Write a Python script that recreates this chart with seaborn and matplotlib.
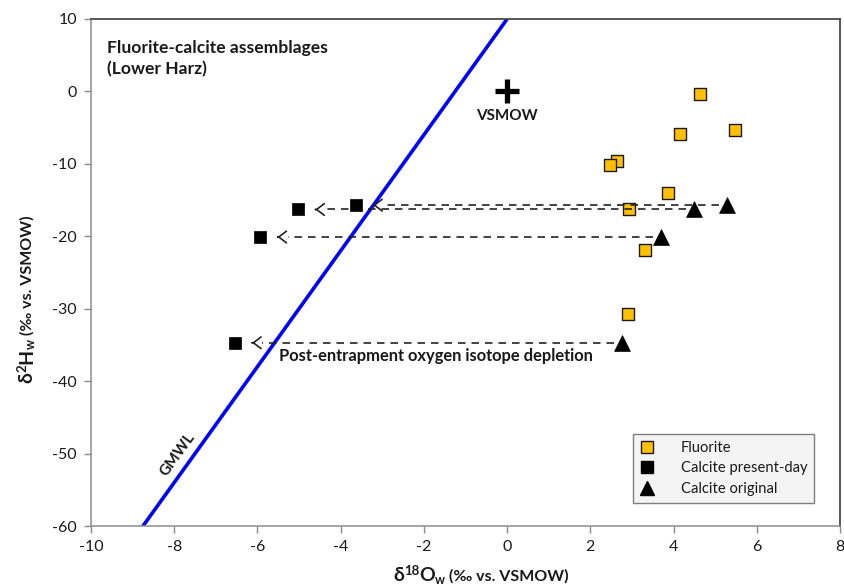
import matplotlib
matplotlib.use("Agg")
import matplotlib.pyplot as plt
import seaborn as sns
import pandas as pd
from matplotlib.lines import Line2D

# --- data (δ18O, δ2H of fluid, ‰ vs. VSMOW) ---
fluorite_d18o = [4.64, 5.48, 4.16, 2.64, 2.48, 3.87, 2.93, 3.32, 2.91]
fluorite_d2h = [-0.35, -5.3, -5.9, -9.6, -10.2, -14.0, -16.2, -21.9, -30.7]

calcite_original_d18o = [5.29, 4.50, 3.71, 2.76]
calcite_present_d18o = [-3.64, -5.03, -5.94, -6.55]
calcite_d2h = [-15.7, -16.3, -20.1, -34.7]

gmwl_slope = 8.0
gmwl_intercept = 10.0
vsmow_point = (0.0, 0.0)

x_ticks = [-10, -8, -6, -4, -2, 0, 2, 4, 6, 8]
y_ticks = [-60, -50, -40, -30, -20, -10, 0, 10]

series_labels = ["Fluorite", "Calcite present-day", "Calcite original"]

# --- style ---
sns.set_style("white")
plt.rcParams["font.family"] = ["Lato", "DejaVu Sans"]
plt.rcParams["axes.unicode_minus"] = False

W, H = 844, 588
fig = plt.figure(figsize=(W / 100, H / 100), dpi=100)
ax = fig.add_axes([91 / W, 1 - 526 / H, (840 - 91) / W, (526 - 19) / H])

# Global meteoric water line
gmwl_x = [x_ticks[0], x_ticks[-1]]
gmwl_df = pd.DataFrame({"x": gmwl_x,
                        "y": [gmwl_slope * v + gmwl_intercept for v in gmwl_x]})
sns.lineplot(data=gmwl_df, x="x", y="y", color="#0000ff", linewidth=2.6,
             ax=ax, zorder=2, legend=False)

# Isotope shift arrows: original calcite -> present-day calcite
for x0, x1, y in zip(calcite_original_d18o, calcite_present_d18o, calcite_d2h):
    tip = x1 + 0.42
    ax.plot([x0 - 0.2, tip + 0.25], [y, y], color="#222222", lw=1.2,
            linestyle=(0, (4.5, 3.6)), zorder=4)
    ax.annotate("", xy=(tip, y), xytext=(tip + 0.01, y),
                arrowprops=dict(arrowstyle="->,head_length=0.55,head_width=0.42",
                                color="#222222", lw=1.2, shrinkA=0, shrinkB=0),
                zorder=4)

# Samples
sns.scatterplot(x=fluorite_d18o, y=fluorite_d2h, marker="s", s=72,
                color="#ffc000", edgecolor="#1a1a1a", linewidth=1.0,
                ax=ax, zorder=3, legend=False)
sns.scatterplot(x=calcite_present_d18o, y=calcite_d2h, marker="s", s=80,
                color="black", edgecolor="black", linewidth=0.5,
                ax=ax, zorder=5, legend=False)
sns.scatterplot(x=calcite_original_d18o, y=calcite_d2h, marker="^", s=130,
                color="black", edgecolor="black", linewidth=0.5,
                ax=ax, zorder=5, legend=False)

# VSMOW reference point
ax.plot(*vsmow_point, marker="+", markersize=17, markeredgewidth=3.8,
        color="black", zorder=5)
ax.text(vsmow_point[0], vsmow_point[1] - 3.4, "VSMOW", ha="center",
        va="center", fontsize=11, fontweight="bold", color="#1a1a1a")

# Axes cosmetics
ax.set_xlabel("")
ax.set_ylabel("")
ax.set_xlim(x_ticks[0], x_ticks[-1])
ax.set_ylim(y_ticks[0], y_ticks[-1])
ax.set_xticks(x_ticks)
ax.set_yticks(y_ticks)
ax.tick_params(axis="both", direction="out", length=5, width=1.0,
               color="#8c8c8c", labelsize=11.5, labelcolor="#1a1a1a", pad=5)
ax.tick_params(top=False, right=False, bottom=True, left=True)
for side in ("left", "bottom"):
    ax.spines[side].set_color("#8c8c8c")
    ax.spines[side].set_linewidth(1.1)
for side in ("top", "right"):
    ax.spines[side].set_color("#4a4a4a")
    ax.spines[side].set_linewidth(1.3)
ax.grid(False)

# Annotations
ax.text(0.021, 0.958, "Fluorite-calcite assemblages\n(Lower Harz)",
        transform=ax.transAxes, ha="left", va="top", fontsize=12.6,
        fontweight="bold", color="#1a1a1a", linespacing=1.35)
ax.text(-5.48, -36.5, "Post-entrapment oxygen isotope depletion",
        ha="left", va="center", fontsize=11.9, fontweight="bold",
        color="#1a1a1a")
ax.text(-7.93, -50.2, "GMWL", ha="center", va="center", rotation=54.3,
        rotation_mode="anchor", fontsize=11, fontweight="bold",
        color="#1a1a1a")

# Legend
handles = [
    Line2D([], [], linestyle="none", marker="s", markersize=8.5,
           markerfacecolor="#ffc000", markeredgecolor="#1a1a1a", markeredgewidth=1.0),
    Line2D([], [], linestyle="none", marker="s", markersize=8.5,
           markerfacecolor="black", markeredgecolor="black"),
    Line2D([], [], linestyle="none", marker="^", markersize=10,
           markerfacecolor="black", markeredgecolor="black"),
]
leg = ax.legend(handles, series_labels, loc="upper left",
                bbox_to_anchor=(0.724, 0.181), frameon=True, fancybox=False,
                facecolor="#f4f4f4", edgecolor="#7f7f7f", framealpha=1,
                fontsize=10.6, handlelength=1.0, handletextpad=1.8,
                labelspacing=0.45, borderpad=0.45, borderaxespad=0)
leg.get_frame().set_linewidth(1.0)
for t in leg.get_texts():
    t.set_color("#1a1a1a")

# Axis titles built from pieces (main symbol, superscript, subscript, units)
fig.canvas.draw()
renderer = fig.canvas.get_renderer()


def compose(x_px, y_px, pieces, vertical=False):
    cur = 0.0
    for text, size, shift in pieces:
        if not vertical:
            t = fig.text((x_px + cur) / W, 1 - (y_px - shift) / H, text,
                         fontsize=size, fontweight="bold", color="#1a1a1a",
                         ha="left", va="baseline")
            cur += t.get_window_extent(renderer).width
        else:
            t = fig.text((x_px - shift) / W, 1 - (y_px - cur) / H, text,
                         fontsize=size, fontweight="bold", color="#1a1a1a",
                         ha="left", va="baseline", rotation=90,
                         rotation_mode="anchor")
            cur += t.get_window_extent(renderer).height


compose(393, 581, [("δ", 14, 0), ("18", 9.5, 6), ("O", 14, 0),
                   ("w", 9, -3), (" (‰ vs. VSMOW)", 11.5, 0)])
compose(32, 383, [("δ", 14, 0), ("2", 9.5, 6), ("H", 14, 0),
                  ("w", 9, -3), (" (‰ vs. VSMOW)", 11.5, 0)], vertical=True)

fig.savefig("out.png", dpi=100)
